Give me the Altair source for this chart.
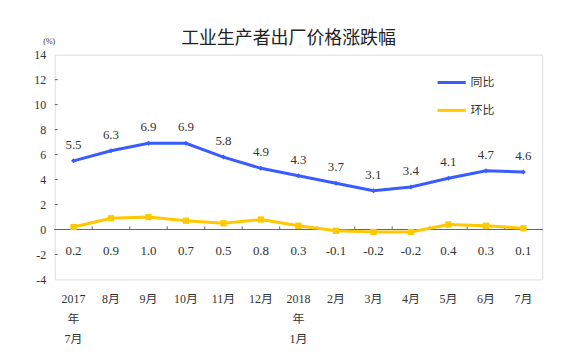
import altair as alt
import pandas as pd

months = ["2017|年|7月", "8月", "9月", "10月", "11月", "12月", "2018|年|1月",
          "2月", "3月", "4月", "5月", "6月", "7月"]
yoy = [5.5, 6.3, 6.9, 6.9, 5.8, 4.9, 4.3, 3.7, 3.1, 3.4, 4.1, 4.7, 4.6]
mom = [0.2, 0.9, 1.0, 0.7, 0.5, 0.8, 0.3, -0.1, -0.2, -0.2, 0.4, 0.3, 0.1]
series = ["同比", "环比"]
colors = ["#3a5cff", "#ffc800"]
y_ticks = [-4, -2, 0, 2, 4, 6, 8, 10, 12, 14]

SERIF = "Liberation Serif, Noto Sans CJK SC"
CJK = "Noto Sans CJK SC"

df = pd.DataFrame({
    "month": months * 2,
    "value": yoy + mom,
    "series": [series[0]] * len(months) + [series[1]] * len(months),
})
df["label"] = [f"{v:.1f}" for v in df["value"]]
df_yoy = df[df.series == series[0]]
df_mom = df[df.series == series[1]]
df_ticks = pd.DataFrame({"month": months[1:]})
df_yt = pd.DataFrame({"value": y_ticks[1:-1]})

xscale = alt.Scale(type="band", domain=months, paddingInner=0, paddingOuter=0)
xaxis = alt.Axis(title=None, labelExpr="split(datum.value, '|')", labelAngle=0,
                 ticks=False, domain=False, labelPadding=14, labelLineHeight=20,
                 labelFontSize=12, labelColor="#333", labelFont=SERIF,
                 labelBaseline="top")
x = alt.X("month:N", sort=months, scale=xscale, axis=xaxis)
yscale = alt.Scale(domain=[-4, 14], nice=False, zero=False)
yaxis = alt.Axis(values=y_ticks, grid=False, domain=False, ticks=False,
                 labelExpr="toString(datum.value)", labelOverlap=False,
                 labelPadding=9, labelFontSize=12, labelColor="#333",
                 labelFont=SERIF, title="(%)", titleAngle=0, titleX=-6,
                 titleY=-13, titleAlign="center", titleBaseline="middle",
                 titleFontSize=8, titleFontWeight="normal", titleFont=SERIF,
                 titleColor="#333")
y = alt.Y("value:Q", scale=yscale, axis=yaxis)

color = alt.Color("series:N", scale=alt.Scale(domain=series, range=colors),
                  legend=alt.Legend(orient="none", legendX=383, legendY=12, title=None,
                                    symbolType="stroke", symbolSize=800,
                                    symbolStrokeWidth=3, labelFontSize=12,
                                    labelFont=CJK, labelColor="#333",
                                    rowPadding=6, labelOffset=3))

zero = alt.Chart(df_ticks).mark_rule(color="#666", strokeWidth=1).encode(
    y=alt.YDatum(0, scale=yscale, axis=yaxis))
ticks = alt.Chart(df_ticks).mark_rule(color="#666", strokeWidth=1).encode(
    x=alt.X("month:N", bandPosition=0, scale=xscale, axis=xaxis),
    y=alt.YDatum(0, scale=yscale, axis=yaxis), y2=alt.datum(0.25))
yticks = alt.Chart(df_yt).mark_rule(color="#666", strokeWidth=1).encode(
    y=y, x=alt.value(0), x2=alt.value(3))

lines = alt.Chart(df).mark_line(strokeWidth=3).encode(x=x, y=y, color=color)
pts_yoy = alt.Chart(df_yoy).mark_point(shape="diamond", filled=True, size=25,
                                       color=colors[0], opacity=1).encode(x=x, y=y)
pts_mom = alt.Chart(df_mom).mark_point(shape="square", filled=True, size=40,
                                       color=colors[1], opacity=1).encode(x=x, y=y)
lab_yoy = alt.Chart(df_yoy).mark_text(dy=-16, fontSize=13, font=SERIF, color="#333").encode(
    x=x, y=y, text="label:N")
lab_mom = alt.Chart(df_mom).mark_text(fontSize=13, font=SERIF, color="#333").encode(
    x=x, y=alt.YDatum(-1.75, scale=yscale, axis=yaxis), text="label:N")

chart = alt.layer(zero, ticks, yticks, lines, pts_yoy, pts_mom, lab_yoy, lab_mom).properties(
    width=490, height=226,
    title=alt.TitleParams("工业生产者出厂价格涨跌幅", anchor="middle", dx=-10, dy=22,
                          offset=12, fontSize=18, font=CJK, fontWeight="normal",
                          color="#222"),
    autosize=alt.AutoSizeParams(type="none"),
    padding={"left": 47, "top": 46, "right": 30, "bottom": 70},
).configure_view(stroke="#666", strokeWidth=1).configure(background="white")

chart.save("out.html", embed_options={"renderer": "svg", "actions": False})
